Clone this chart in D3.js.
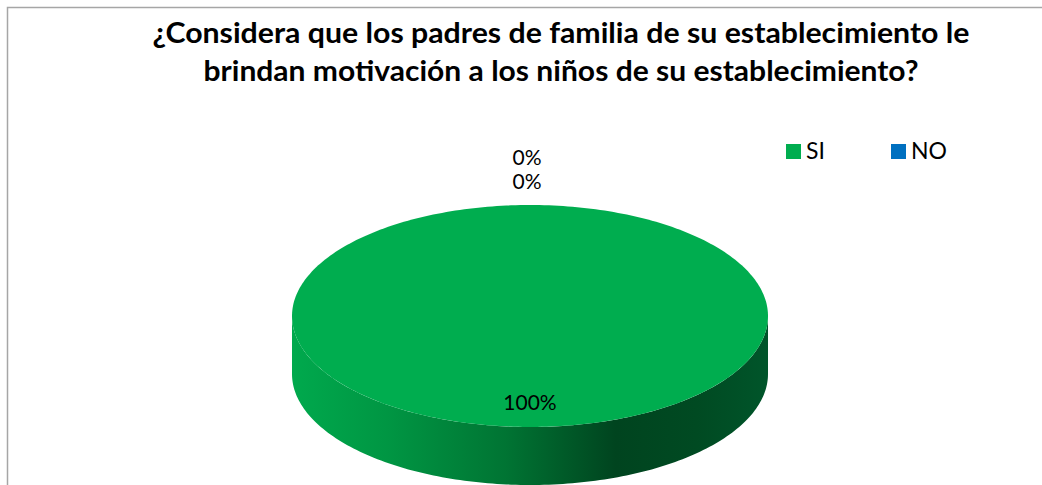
<!DOCTYPE html>
<html>
<head>
<meta charset="utf-8">
<script src="https://cdn.jsdelivr.net/npm/d3@7"></script>
<style>
    html, body { margin: 0; padding: 0; background: #ffffff; }
    svg { display: block; }
</style>
</head>
<body>
<div id="chart"></div>
<script>
// Chart data
const categories = ['SI', 'NO', ''];
const values = [100, 0, 0];
const colors = ['#00ad4f', '#0070c0', '#7f7f7f'];
const titleLines = [
    '¿Considera que los padres de familia de su establecimiento le',
    'brindan motivación a los niños de su establecimiento?'
];

const width = 1042;
const height = 485;

const svg = d3.select('#chart')
    .append('svg')
    .attr('width', width)
    .attr('height', height)
    .style('font-family', 'Lato, "Open Sans", sans-serif');

// Chart area border (cropped on the right and bottom)
svg.append('rect')
    .attr('x', 7.5)
    .attr('y', 7.5)
    .attr('width', width + 20)
    .attr('height', height + 20)
    .attr('fill', '#ffffff')
    .attr('stroke', '#a6a6a6')
    .attr('stroke-width', 1.5);

// Title
const titleWidths = [817, 715];
svg.append('g')
    .selectAll('text')
    .data(titleLines)
    .join('text')
    .attr('x', 561)
    .attr('y', (d, i) => 43 + i * 38)
    .attr('text-anchor', 'middle')
    .attr('font-size', 28)
    .attr('font-weight', 'bold')
    .attr('fill', '#000000')
    .attr('textLength', (d, i) => titleWidths[i])
    .attr('lengthAdjust', 'spacingAndGlyphs')
    .text(d => d);

// 3D pie geometry
const cx = 530, cy = 316, rx = 238, ry = 111, depth = 58;

const pie = d3.pie().sort(null).value(d => d.value);
const slices = pie(categories.map((c, i) => ({ name: c, value: values[i], color: colors[i] })));

const px = a => cx + rx * Math.sin(a);
const py = a => cy - ry * Math.cos(a);

const defs = svg.append('defs');
const grad = defs.append('linearGradient')
    .attr('id', 'side-grad')
    .attr('gradientUnits', 'userSpaceOnUse')
    .attr('x1', cx - rx).attr('y1', 0)
    .attr('x2', cx + rx).attr('y2', 0);
[
    [0, '#00a94d'],
    [0.2, '#009643'],
    [0.45, '#007433'],
    [0.68, '#00441f'],
    [0.85, '#004a22'],
    [1, '#00552a']
].forEach(([o, c]) => grad.append('stop').attr('offset', o).attr('stop-color', c));

function arcPoints(a0, a1, dy) {
    const n = Math.max(2, Math.ceil((a1 - a0) / 0.02));
    return d3.range(n + 1).map(k => {
        const a = a0 + (a1 - a0) * k / n;
        return [px(a), py(a) + dy];
    });
}

const line = d3.line();

// Side walls: only the front half (angles between pi/2 and 3pi/2) is visible
const sideG = svg.append('g');
slices.forEach(s => {
    const a0 = Math.max(s.startAngle, Math.PI / 2);
    const a1 = Math.min(s.endAngle, 3 * Math.PI / 2);
    if (a1 <= a0) return;
    const top = arcPoints(a0, a1, 0);
    const bottom = arcPoints(a0, a1, depth).reverse();
    sideG.append('path')
        .attr('d', line(top.concat(bottom)) + 'Z')
        .attr('fill', s.index === 0 ? 'url(#side-grad)' : d3.color(s.data.color).darker(1.2));
});

// Top faces
const topG = svg.append('g');
slices.forEach(s => {
    if (s.endAngle - s.startAngle <= 0) return;
    const pts = arcPoints(s.startAngle, s.endAngle, 0);
    if (s.endAngle - s.startAngle < 2 * Math.PI - 1e-6) pts.unshift([cx, cy]);
    topG.append('path')
        .attr('d', line(pts) + 'Z')
        .attr('fill', s.data.color);
});

// Data labels
const fmt = d3.format('.0%');
const total = d3.sum(values);
const zeroSlices = slices.filter(t => t.value === 0);
const labelG = svg.append('g');
slices.forEach(s => {
    const mid = (s.startAngle + s.endAngle) / 2;
    let x, y;
    if (s.value === 0) {
        // zero-size slices: labels stacked outside the pie edge
        const k = zeroSlices.indexOf(s);
        x = px(mid) - 3;
        y = py(mid) - 16 - (zeroSlices.length - 1 - k) * 24;
    } else {
        x = cx;
        y = cy - 0.85 * ry * Math.cos(mid);
    }
    labelG.append('text')
        .attr('x', x)
        .attr('y', y)
        .attr('text-anchor', 'middle')
        .attr('font-size', 21)
        .attr('fill', '#000000')
        .text(fmt(s.value / total));
});

// Legend
const legendItems = slices.filter(s => s.data.name !== '');
const legendX = d3.scalePoint()
    .domain(legendItems.map(s => s.data.name))
    .range([786, 891]);
const legend = svg.append('g');
legendItems.forEach(s => {
    const g = legend.append('g')
        .attr('transform', `translate(${legendX(s.data.name)},144)`);
    g.append('rect')
        .attr('width', 15)
        .attr('height', 15)
        .attr('fill', s.data.color);
    g.append('text')
        .attr('x', 20)
        .attr('y', 15)
        .attr('font-size', 23)
        .attr('fill', '#000000')
        .text(s.data.name);
});
</script>
</body>
</html>
